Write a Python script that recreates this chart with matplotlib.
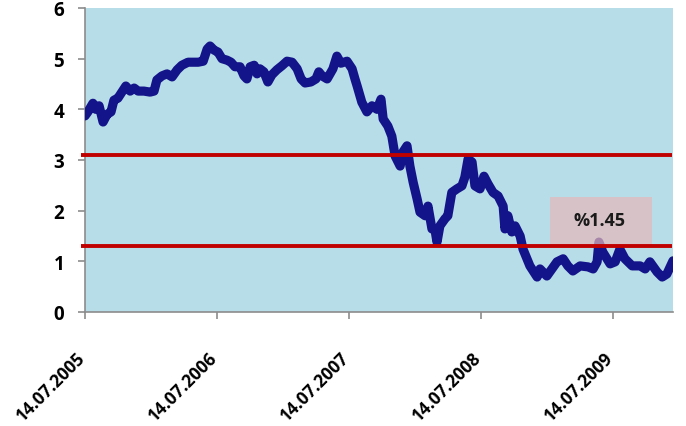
import matplotlib
matplotlib.use("Agg")
import matplotlib.pyplot as plt
import matplotlib.transforms as mtransforms
import matplotlib.dates as mdates
import pandas as pd

# ---- data ----
start_date = "2005-07-14"
day_offsets = [0, 8, 22, 30, 39, 50, 61, 72, 80, 91, 102, 113, 125, 136, 147, 163, 180, 191,
               199, 213, 227, 241, 255, 268, 285, 299, 313, 327, 338, 346, 357, 368, 379, 393,
               404, 415, 429, 440, 448, 457, 468, 476, 484, 495, 506, 517, 531, 545, 559, 573,
               587, 598, 609, 625, 639, 647, 656, 670, 686, 697, 708, 725, 739, 747, 753,
               766, 780, 794, 808, 819, 825, 838, 849, 858, 872, 880, 891, 899, 908, 919, 927,
               941, 949, 960, 968, 974, 982, 996, 1004, 1015, 1029, 1043, 1051, 1060, 1071,
               1079, 1093, 1104, 1115, 1129, 1143, 1157, 1162, 1170, 1181, 1190, 1204, 1212,
               1223, 1231, 1251, 1259, 1278, 1292, 1306, 1323, 1336, 1350, 1370, 1392, 1406,
               1417, 1422, 1433, 1453, 1467, 1480, 1494, 1514, 1536, 1550, 1563, 1583, 1597,
               1610, 1627]
values = [3.87, 3.95, 4.12, 4.00, 4.07, 3.75, 3.90, 3.95, 4.18, 4.22, 4.34, 4.46, 4.36, 4.42,
          4.36, 4.36, 4.34, 4.36, 4.58, 4.66, 4.70, 4.64, 4.78, 4.87, 4.93, 4.93, 4.93, 4.95,
          5.19, 5.25, 5.17, 5.13, 5.00, 4.97, 4.93, 4.84, 4.84, 4.66, 4.60, 4.84, 4.87, 4.70,
          4.80, 4.74, 4.54, 4.68, 4.78, 4.86, 4.95, 4.93, 4.80, 4.60, 4.52, 4.54, 4.60, 4.74,
          4.66, 4.60, 4.80, 5.05, 4.91, 4.95, 4.80, 4.60, 4.46, 4.14, 3.95, 4.07, 4.00, 4.20,
          3.81, 3.67, 3.47, 3.08, 2.88, 3.16, 3.28, 2.88, 2.56, 2.23, 1.97, 1.90, 2.09, 1.64,
          1.64, 1.38, 1.70, 1.84, 1.90, 2.36, 2.43, 2.49, 2.66, 3.02, 2.96, 2.49, 2.43, 2.68,
          2.53, 2.36, 2.29, 2.09, 1.64, 1.90, 1.58, 1.70, 1.50, 1.24, 1.05, 0.91, 0.69, 0.85,
          0.71, 0.85, 0.99, 1.05, 0.91, 0.81, 0.91, 0.89, 0.85, 0.99, 1.38, 1.18, 0.95, 0.99,
          1.24, 1.05, 0.91, 0.91, 0.85, 0.99, 0.79, 0.69, 0.75, 1.01]
upper_level = 3.1
lower_level = 1.3
tick_dates = ["2005-07-14", "2006-07-14", "2007-07-14", "2008-07-14", "2009-07-14"]
tick_labels = ["14.07.2005", "14.07.2006", "14.07.2007", "14.07.2008", "14.07.2009"]
annot_text = "%1.45"
box_start_offset, box_end_offset = 1287, 1569
box_low, box_high = 1.3, 2.27

# ---- figure ----
plt.rcParams['font.family'] = ['Open Sans', 'DejaVu Sans']
fig = plt.figure(figsize=(6.86, 4.27), dpi=100)
ax = fig.add_axes([85/686, (427-313)/427, (673-85)/686, (313-9)/427])
ax.set_facecolor('#B7DDE8')

t0 = pd.Timestamp(start_date)
dates = t0 + pd.to_timedelta(day_offsets, unit='D')
ax.plot(dates, values, color='#14148A', lw=6.6, solid_capstyle='round',
        solid_joinstyle='round', zorder=3)

xmin, xmax = dates[0], dates[-1]
ax.set_xlim(xmin, xmax)
ax.set_ylim(0, 6)

# red levels
ax.hlines([upper_level, lower_level], t0 - pd.Timedelta(days=11), xmax - pd.Timedelta(days=3),
          color='#C00000', lw=2.8, zorder=5, clip_on=False)

# annotation box
bx0 = t0 + pd.Timedelta(days=box_start_offset)
bx1 = t0 + pd.Timedelta(days=box_end_offset)
ax.add_patch(plt.Rectangle((mdates.date2num(bx0), box_low),
                           mdates.date2num(bx1) - mdates.date2num(bx0), box_high - box_low,
                           facecolor='#E6B8B9', alpha=0.7, edgecolor='none', zorder=4))
ax.text(t0 + pd.Timedelta(days=(box_start_offset + box_end_offset) / 2 - 5),
        (box_low + box_high) / 2 + 0.04, annot_text,
        ha='center', va='center', fontsize=13, fontweight='bold', color='#1a1a1a', zorder=6)

# axes styling
for s in ['top', 'right']:
    ax.spines[s].set_visible(False)
for s in ['left', 'bottom']:
    ax.spines[s].set_color('#8C8C8C')
    ax.spines[s].set_linewidth(1.2)

ax.set_yticks(range(0, 7))
ax.set_yticklabels([str(i) for i in range(0, 7)], fontsize=13.5, fontweight='bold')
ax.tick_params(axis='y', length=5, color='#8C8C8C', width=1.2, pad=10)

ax.set_xticks([pd.Timestamp(d) for d in tick_dates])
ax.set_xticklabels(tick_labels, fontsize=12.5, fontweight='bold', rotation=45, ha='right')
ax.tick_params(axis='x', length=5, color='#8C8C8C', width=1.2, pad=21)
offset = mtransforms.ScaledTranslation(4/100, 0, fig.dpi_scale_trans)
for lbl in ax.get_xticklabels():
    lbl.set_transform(lbl.get_transform() + offset)

fig.savefig('out.png', dpi=100)
